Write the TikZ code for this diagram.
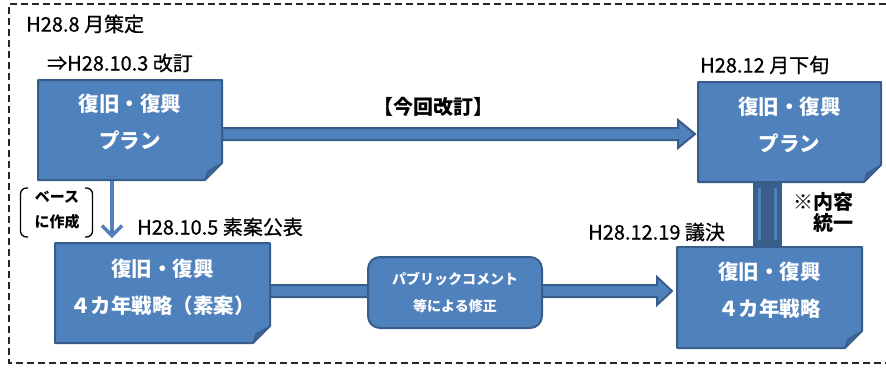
\documentclass[tikz,border=0pt]{standalone}
\usepackage{fontspec}
\newfontfamily\jp{Noto Sans CJK JP}
\newfontfamily\jpm[FakeBold=0.7]{Noto Sans CJK JP}
\usetikzlibrary{calc,backgrounds,arrows.meta}
\definecolor{bfill}{HTML}{4F81BD}
\definecolor{bline}{HTML}{385D8A}
\definecolor{bfold}{HTML}{3E6699}
\definecolor{bdark}{HTML}{3A5F8B}
\newcommand\foldbox[1]{%
  \filldraw[fill=bfill,draw=bline,line width=2pt,line join=round]
    (#1.north west) -- (#1.north east) -- ([yshift=17pt]#1.south east)
    -- ([xshift=-17pt]#1.south east) -- (#1.south west) -- cycle;
  \filldraw[fill=bfold,draw=bline,line width=1pt,line join=round]
    ([xshift=-17pt]#1.south east) -- ([yshift=17pt]#1.south east)
    -- ([xshift=-14pt,yshift=9pt]#1.south east) -- cycle;
}
\begin{document}
\begin{tikzpicture}[x=1pt,y=-1pt,
  shapebox/.style={inner sep=0pt,outer sep=0pt},
  boxtxt/.style={inner sep=0pt,align=center,text=white,
    font=\jp\bfseries\fontsize{20.5}{37}\selectfont},
  lbl/.style={inner sep=0pt,font=\jpm\fontsize{20}{24}\selectfont},
  lblb/.style={inner sep=0pt,font=\jp\bfseries\fontsize{20}{21}\selectfont},
  smalllbl/.style={inner sep=0pt,align=center,font=\jp\bfseries\fontsize{15}{25}\selectfont},
  pcbox/.style={inner sep=0pt,align=center,text=white,fill=bfill,draw=bline,
    line width=2pt,rounded corners=12pt,minimum width=174pt,minimum height=71pt,
    font=\jp\bfseries\fontsize{14}{27}\selectfont},
  blockarrow/.style={fill=bfill,draw=bline,line width=2pt,line join=miter},
  linkarrow/.style={draw=bfill,line width=4pt,
    -{Straight Barb[length=10pt,width=20pt,line width=3.5pt]}},
  bracket/.style={draw=black,line width=1.3pt,rounded corners=6pt},
  outerframe/.style={draw=black!85,line width=1.4pt,dash pattern=on 7pt off 4pt}
]
\useasboundingbox (0,0) rectangle (886,367);
\draw[outerframe] (886,4) -- (9,4) -- (9,363) -- (886,363);

\node[shapebox,minimum width=184pt,minimum height=100pt] (A) at (130,130) {};
\node[shapebox,minimum width=215pt,minimum height=100pt] (B) at (162.5,293) {};
\node[shapebox,minimum width=183pt,minimum height=100pt] (C) at (789.5,132) {};
\node[shapebox,minimum width=185pt,minimum height=101pt] (D) at (769.5,297.5) {};

\begin{scope}[on background layer]
  % top block arrow A -> C
  \coordinate (s1) at ([yshift=-4pt]A.east);
  \coordinate (t1) at ([xshift=-3pt]C.west |- s1);
  \filldraw[blockarrow] ($(s1)+(0,-6)$) -- ($(t1)+(-17,-6)$) -- ($(t1)+(-17,-14)$)
    -- (t1) -- ($(t1)+(-17,14)$) -- ($(t1)+(-17,6)$) -- ($(s1)+(0,6)$) -- cycle;
  % bottom block arrow B -> D
  \coordinate (s2) at ([yshift=2pt]B.east);
  \coordinate (t2) at ([xshift=-5pt]D.west |- s2);
  \filldraw[blockarrow] ($(s2)+(0,-6)$) -- ($(t2)+(-15,-6)$) -- ($(t2)+(-15,-14)$)
    -- (t2) -- ($(t2)+(-15,14)$) -- ($(t2)+(-15,6)$) -- ($(s2)+(0,6)$) -- cycle;
  % A -> B
  \draw[linkarrow] ([xshift=74pt]A.south west) -- ([xshift=57pt,yshift=5pt]B.north west);
  % C = D link
  \coordinate (v) at ([xshift=-2pt]D.north);
  \fill[bdark] ($(v |- C.south)+(-14.5,0)$) rectangle ($(v)+(14.5,0)$);
  \draw[bfill,line width=3pt] ($(v |- C.south)+(-8,6)$) -- ($(v)+(-8,-7)$);
  \draw[bfill,line width=3pt] ($(v |- C.south)+(8,6)$) -- ($(v)+(8,-7)$);
  % boxes
  \foldbox{A}
  \foldbox{B}
  \foldbox{C}
  \foldbox{D}
\end{scope}

\node[pcbox] (P) at (455,292.5) {パブリックコメント\\等による修正};

\node[boxtxt] (At) at ([yshift=8pt]A.center) {復旧・復興\\プラン};
\node[boxtxt] (Bt) at ([yshift=5.5pt]B.center) {復旧・復興\\４カ年戦略（素案）};
\node[boxtxt] (Ct) at ([yshift=7.5pt]C.center) {復旧・復興\\プラン};
\node[boxtxt] (Dt) at ([yshift=7pt]D.center) {復旧・復興\\４カ年戦略};

\node[lbl,anchor=west] (L1) at (26,24) {H28.8 月策定};
\node[lbl,anchor=west] (L2) at (47,63) {⇒H28.10.3 改訂};
\node[lbl,anchor=west] (L3) at (700,65) {H28.12 月下旬};
\node[lblb] (L4) at (433,107) {【今回改訂】};
\node[lbl,anchor=west] (L5) at (137,227) {H28.10.5 素案公表};
\node[lbl,anchor=west] (L6) at (588,232) {H28.12.19 議決};
\node[lblb,anchor=east,align=right] (L7) at (854,212.5) {※内容\\統一};
\node[smalllbl] (L8) at (57,210.5) {ベース\\に作成};
\draw[bracket] ($(L8.center)+(-29,-22.5)$) -- ($(L8.center)+(-36.5,-22.5)$)
  -- ($(L8.center)+(-36.5,26.5)$) -- ($(L8.center)+(-29,26.5)$);
\draw[bracket] ($(L8.center)+(28,-22.5)$) -- ($(L8.center)+(35.5,-22.5)$)
  -- ($(L8.center)+(35.5,26.5)$) -- ($(L8.center)+(28,26.5)$);
\end{tikzpicture}
\end{document}
